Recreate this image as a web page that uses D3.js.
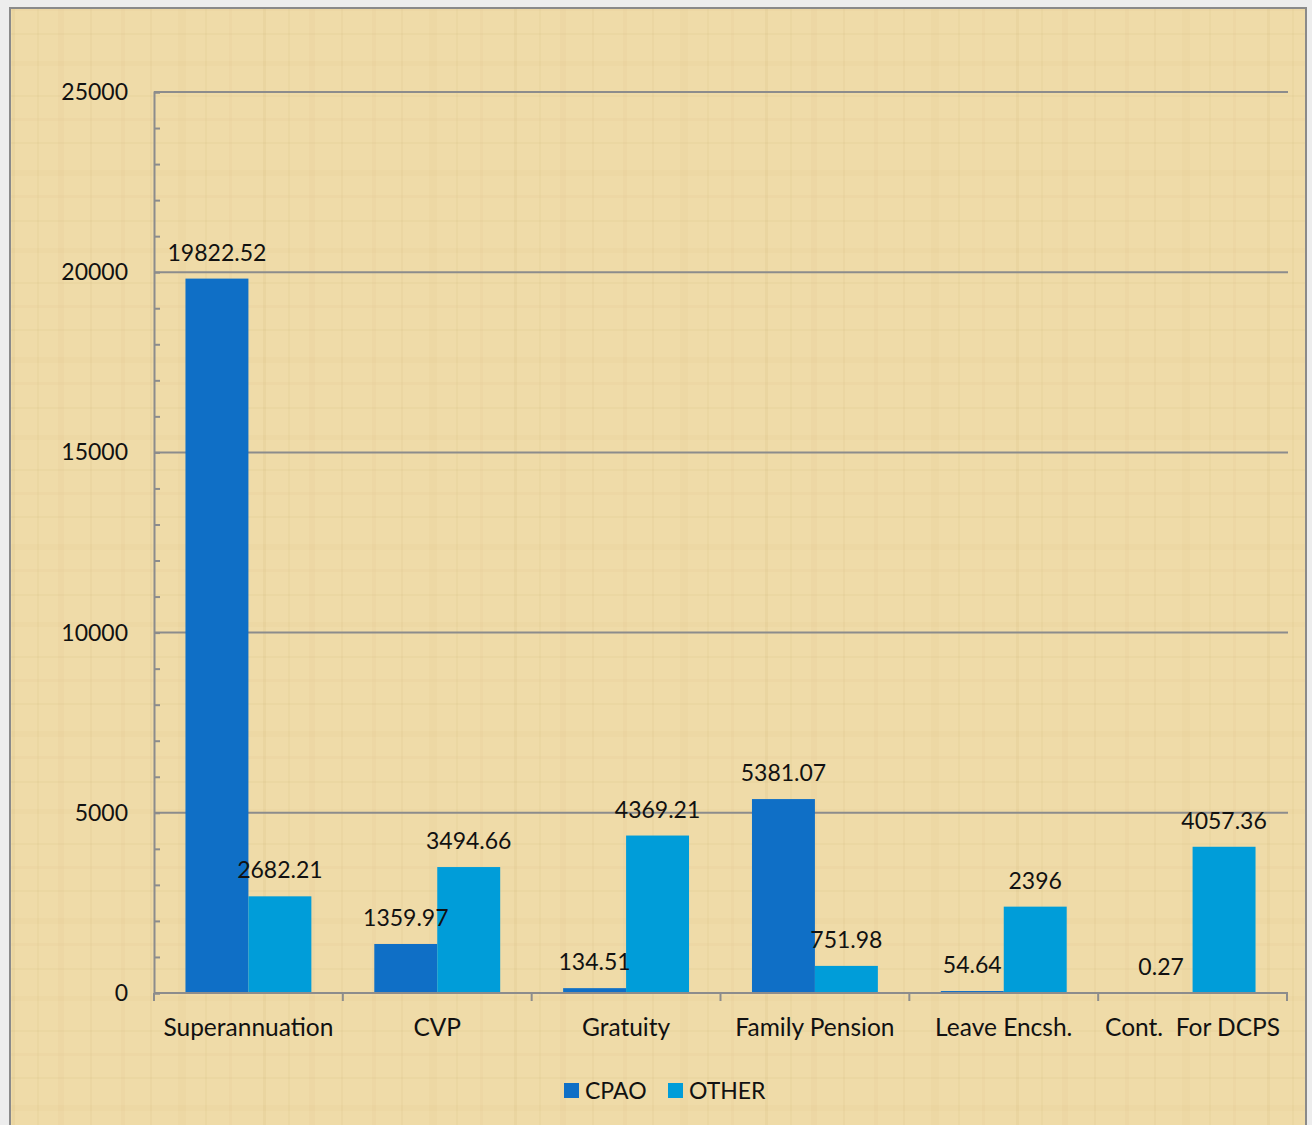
<!DOCTYPE html>
<html>
<head>
<meta charset="utf-8">
<script src="https://cdn.jsdelivr.net/npm/d3@7"></script>
<style>
  html, body { margin: 0; padding: 0; background: #ececec; }
  svg { display: block; }
  text { font-family: Lato, "Open Sans", sans-serif; fill: #111; }
</style>
</head>
<body>
<svg id="chart" width="1312" height="1125"></svg>
<script>
const categories = ["Superannuation", "CVP", "Gratuity", "Family Pension", "Leave Encsh.", "Cont.  For DCPS"];
const seriesNames = ["CPAO", "OTHER"];
const cpaoValues = [19822.52, 1359.97, 134.51, 5381.07, 54.64, 0.27];
const otherValues = [2682.21, 3494.66, 4369.21, 751.98, 2396, 4057.36];
const cpaoLabels = ["19822.52", "1359.97", "134.51", "5381.07", "54.64", "0.27"];
const otherLabels = ["2682.21", "3494.66", "4369.21", "751.98", "2396", "4057.36"];
const yTicks = [0, 5000, 10000, 15000, 20000, 25000];
const yMinorTicks = d3.range(0, 25001, 1000);
const colors = ["#0f6fc6", "#009dd9"];

const svg = d3.select("#chart");
const W = 1312, H = 1125;

svg.append("rect").attr("width", W).attr("height", H).attr("fill", "#ededed");

// papyrus-like texture
const defs = svg.append("defs");
const pat = defs.append("pattern").attr("id", "papyrus").attr("patternUnits", "userSpaceOnUse")
  .attr("width", 251).attr("height", 187);
pat.append("rect").attr("width", 251).attr("height", 187).attr("fill", "#efdba8");
const vlines = [[12, 3, 0.07], [37, 2, 0.05], [58, 6, 0.04], [90, 2, 0.06], [121, 4, 0.04], [150, 2, 0.06], [178, 8, 0.035], [205, 2, 0.05], [229, 3, 0.04]];
vlines.forEach(([x, w, o]) => pat.append("rect").attr("x", x).attr("y", 0).attr("width", w).attr("height", 187).attr("fill", "#a88440").attr("opacity", o));
const hlines = [[8, 3, 0.04], [33, 2, 0.05], [61, 5, 0.035], [95, 2, 0.05], [118, 3, 0.04], [142, 2, 0.05], [170, 6, 0.035]];
hlines.forEach(([y, h, o]) => pat.append("rect").attr("x", 0).attr("y", y).attr("width", 251).attr("height", h).attr("fill", "#a88440").attr("opacity", o));

svg.append("rect").attr("x", 10).attr("y", 8).attr("width", 1296).attr("height", H)
  .attr("fill", "url(#papyrus)").attr("stroke", "#8a8a8a").attr("stroke-width", 2);

const plot = { left: 154, top: 92, right: 1288, bottom: 993 };

const y = d3.scaleLinear().domain([0, 25000]).range([plot.bottom, plot.top]);
const x0 = d3.scaleBand().domain(categories).range([plot.left, plot.right - 1]).padding(0);
const x1 = d3.scaleBand().domain(seriesNames).range([0, x0.bandwidth()]).paddingInner(0).paddingOuter(0.5);

const axisColor = "#8c8c8c";

svg.append("g").selectAll("line").data(yTicks.filter(d => d > 0)).join("line")
  .attr("x1", plot.left).attr("x2", plot.right)
  .attr("y1", d => y(d)).attr("y2", d => y(d))
  .attr("stroke", axisColor).attr("stroke-width", 2);

const yAxis = svg.append("g").attr("transform", `translate(${plot.left},0)`)
  .call(d3.axisLeft(y).tickValues(yMinorTicks).tickSize(-6).tickFormat(""));
yAxis.select(".domain").attr("stroke", axisColor).attr("stroke-width", 2);
yAxis.selectAll(".tick line").attr("stroke", axisColor).attr("stroke-width", 2);

svg.append("g").selectAll("text").data(yTicks).join("text")
  .attr("x", 128).attr("y", d => y(d) + 8)
  .attr("text-anchor", "end").attr("font-size", 23)
  .text(d => d);

const data = categories.map((c, i) => ({ cat: c, vals: [
  { s: "CPAO", v: cpaoValues[i], label: cpaoLabels[i], color: colors[0] },
  { s: "OTHER", v: otherValues[i], label: otherLabels[i], color: colors[1] }
]}));

const groups = svg.append("g").selectAll("g").data(data).join("g")
  .attr("transform", d => `translate(${x0(d.cat)},0)`);

groups.selectAll("rect").data(d => d.vals).join("rect")
  .attr("x", d => x1(d.s)).attr("width", x1.bandwidth())
  .attr("y", d => y(d.v)).attr("height", d => plot.bottom - y(d.v))
  .attr("fill", d => d.color);

groups.selectAll("text").data(d => d.vals).join("text")
  .attr("x", d => x1(d.s) + x1.bandwidth() / 2)
  .attr("y", d => y(d.v) - 18)
  .attr("text-anchor", "middle").attr("font-size", 23)
  .text(d => d.label);

const xAxis = svg.append("g").attr("transform", `translate(0,${plot.bottom})`);
xAxis.append("line").attr("x1", plot.left).attr("x2", plot.right).attr("y1", 0).attr("y2", 0)
  .attr("stroke", axisColor).attr("stroke-width", 2);
const boundaries = categories.map(c => x0(c)).concat([x0(categories[categories.length - 1]) + x0.bandwidth()]);
xAxis.selectAll("line.tick").data(boundaries).join("line").attr("class", "tick")
  .attr("x1", d => d).attr("x2", d => d).attr("y1", 0).attr("y2", 8)
  .attr("stroke", axisColor).attr("stroke-width", 2);
xAxis.selectAll("text").data(categories).join("text")
  .attr("x", d => x0(d) + x0.bandwidth() / 2).attr("y", 43)
  .attr("text-anchor", "middle").attr("font-size", 24.5)
  .attr("xml:space", "preserve").style("white-space", "pre")
  .text(d => d);

const legend = svg.append("g");
const legendItems = [{ name: "CPAO", x: 564, color: colors[0] }, { name: "OTHER", x: 668, color: colors[1] }];
legendItems.forEach(it => {
  legend.append("rect").attr("x", it.x).attr("y", 1083).attr("width", 15).attr("height", 15).attr("fill", it.color);
  legend.append("text").attr("x", it.x + 21).attr("y", 1099).attr("font-size", 23).text(it.name);
});
</script>
</body>
</html>
